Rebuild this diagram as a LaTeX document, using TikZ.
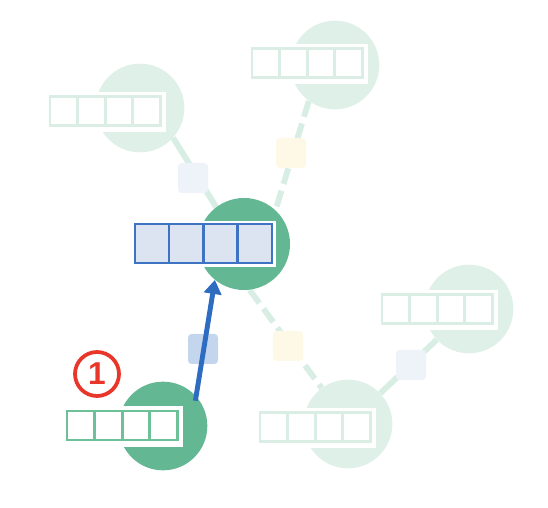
\documentclass[tikz,border=0pt]{standalone}
\usepackage{fontspec}
\usetikzlibrary{arrows.meta,backgrounds}
\newfontfamily\markfont{Liberation Sans}
\definecolor{nodegreen}{RGB}{100,183,147}
\definecolor{palegreen}{RGB}{223,240,232}
\definecolor{edgegreen}{RGB}{216,237,227}
\definecolor{cellgreen}{RGB}{110,192,153}
\definecolor{palecell}{RGB}{218,238,229}
\definecolor{cellblue}{RGB}{62,115,195}
\definecolor{cellfill}{RGB}{220,227,241}
\definecolor{arrowblue}{RGB}{46,108,194}
\definecolor{msgblue}{RGB}{196,214,238}
\definecolor{msgpale}{RGB}{238,242,249}
\definecolor{msgyellow}{RGB}{254,249,230}
\definecolor{markred}{RGB}{232,54,42}
\tikzset{
  vertex/.style={circle, fill=#1, minimum size=2.66cm, inner sep=0pt},
  msg/.style={rounded corners=3pt, fill=#1, minimum size=0.9cm, inner sep=0pt},
  link/.style={edgegreen, line width=5pt},
  dashlink/.style={dash pattern=on 14pt off 6pt},
  frame/.style={fill=white, inner sep=0pt},
  cell/.style={draw=#1, line width=2.2pt, minimum width=0.83cm, minimum height=0.88cm, inner sep=0pt, outer sep=0pt},
  bigcell/.style={cell=cellblue, fill=cellfill, minimum width=1.03cm, minimum height=1.17cm},
}
\begin{document}
\begin{tikzpicture}[x=0.03cm, y=-0.03cm]
    \useasboundingbox (0,0) rectangle (548,508);
    \node[vertex=palegreen] (tl) at (140,108) {};
    \node[vertex=palegreen] (t) at (335,65) {};
    \node[vertex=nodegreen, minimum size=2.76cm] (c) at (244,244) {};
    \node[vertex=nodegreen] (bl) at (163,426) {};
    \node[vertex=palegreen] (br) at (348,424) {};
    \node[vertex=palegreen] (r) at (469,309) {};
    \begin{scope}[on background layer]
        \draw[link] (tl.318) -- (c.127);
        \draw[link, dashlink] (t.234) -- (c.47);
        \draw[link, dashlink] (c.-83) -- (br);
        \draw[link] (br) -- (r);
    \end{scope}
    \node[msg=msgpale] (m-tl) at (193,178) {};
    \node[msg=msgyellow] (m-t) at (291,153) {};
    \node[msg=msgblue] (m-bl) at (203,349) {};
    \node[msg=msgyellow] (m-br) at (288,346) {};
    \node[msg=msgpale] (m-r) at (411,365) {};
    \foreach \v/\lx/\cy in {tl/50/111, t/252/63, br/260/427, r/382/309}{
        \node[frame, minimum width=3.6cm, minimum height=1.2cm] (\v-arr) at (\lx+56,\cy+1) {};
        \foreach \i in {0,...,3}
            \node[cell=palecell] (\v-\i) at (\lx+13.8+27.6*\i,\cy) {};
    }
    \node[frame, minimum width=3.6cm, minimum height=1.22cm] (bl-arr) at (67+56,426.5) {};
    \foreach \i in {0,...,3}
        \node[cell=cellgreen] (bl-\i) at (67+13.8+27.6*\i,425.5) {};
    \node[frame, minimum width=4.32cm, minimum height=1.38cm] (c-arr) at (135+69,244) {};
    \foreach \i in {0,...,3}
        \node[bigcell] (c-\i) at (135+17.1+34.25*\i,243.5) {};
    \draw[arrowblue, line width=4.2pt, -{Triangle[length=0.42cm, width=0.52cm]}, shorten <=-4pt] (bl.42) -- (c.231);
    \node[circle, draw=markred, line width=3.2pt, minimum size=1.32cm, inner sep=0pt, text=markred,
          font=\markfont\bfseries\fontsize{27}{27}\selectfont] (one) at (97,374) {1};
\end{tikzpicture}
\end{document}
